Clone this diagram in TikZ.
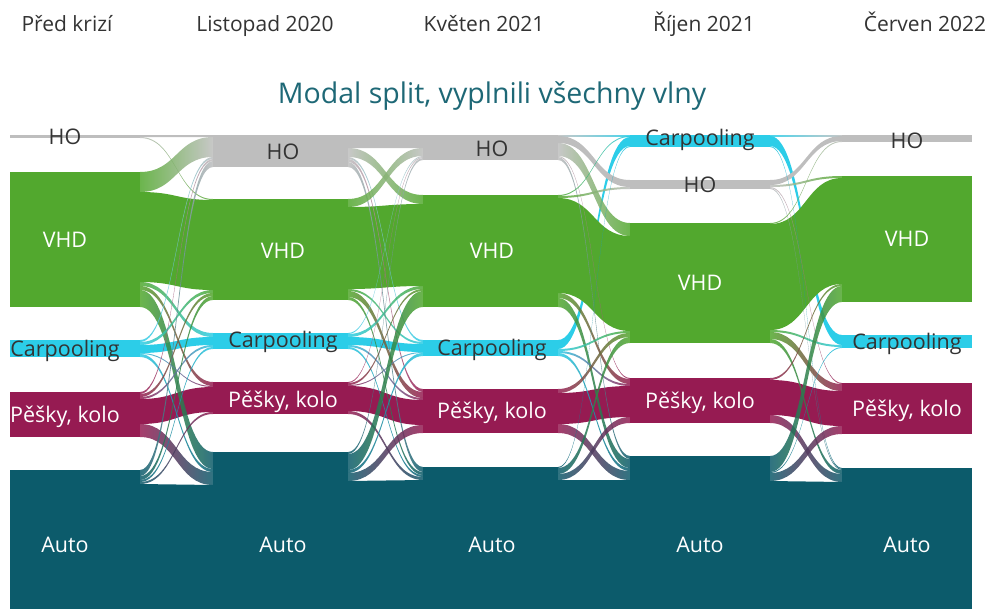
\documentclass[tikz,border=0pt]{standalone}
\usepackage{fontspec}
\setmainfont{Open Sans}
\usetikzlibrary{calc}

\definecolor{hoC}{RGB}{190,190,190}
\definecolor{vhdC}{RGB}{82,168,46}
\definecolor{carC}{RGB}{44,205,232}
\definecolor{pkC}{RGB}{150,27,82}
\definecolor{autC}{RGB}{12,91,107}
\definecolor{titleC}{RGB}{30,104,118}
\definecolor{txtC}{RGB}{51,51,51}

% Sankey ribbon between two bars:
% #1 source bar, #2 offset below its top, #3 target bar, #4 offset below its top,
% #5 thickness, #6 fill style
\newcommand\flowlink[6]{%
  \path[#6] let \p1=(#1.north east), \p2=(#3.north west),
                \p3=($(\p1)!0.5!(\p2)$) in
    (\x1,\y1-#2pt) .. controls (\x3,\y1-#2pt) and (\x3,\y2-#4pt) .. (\x2,\y2-#4pt)
    -- (\x2,\y2-#4pt-#5pt)
    .. controls (\x3,\y2-#4pt-#5pt) and (\x3,\y1-#2pt-#5pt) .. (\x1,\y1-#2pt-#5pt)
    -- cycle;}

\begin{document}
\begin{tikzpicture}[x=1pt,y=-1pt,
  bar/.style={rectangle, inner sep=0pt, outer sep=0pt, anchor=north west,
              fill=#1, draw=none},
  lab/.style={font=\fontsize{21.5}{24}\selectfont, text height=15.3pt,
              text depth=0pt, inner sep=0pt, text=#1},
  hdr/.style={font=\fontsize{21}{24}\selectfont, text=txtC, anchor=base,
              inner sep=0pt},
  same/.style={fill=#1},
  mix/.style 2 args={left color=#1, right color=#2, opacity=0.85}]

\useasboundingbox (0,0) rectangle (988,608);
\clip (0,0) rectangle (988,608);

% ---------- bars ----------
% Před krizí
\node[bar=hoC,  minimum width=130pt, minimum height=3pt]   (c0ho)  at (10,135) {};
\node[bar=vhdC, minimum width=130pt, minimum height=135pt] (c0vhd) at (10,172) {};
\node[bar=carC, minimum width=130pt, minimum height=17pt]  (c0car) at (10,340) {};
\node[bar=pkC,  minimum width=130pt, minimum height=45pt]  (c0pk)  at (10,392) {};
\node[bar=autC, minimum width=130pt, minimum height=150pt] (c0aut) at (10,470) {};
% Listopad 2020
\node[bar=hoC,  minimum width=135pt, minimum height=32pt]  (c1ho)  at (213,135) {};
\node[bar=vhdC, minimum width=135pt, minimum height=101pt] (c1vhd) at (213,199) {};
\node[bar=carC, minimum width=135pt, minimum height=16pt]  (c1car) at (213,333) {};
\node[bar=pkC,  minimum width=135pt, minimum height=32pt]  (c1pk)  at (213,382) {};
\node[bar=autC, minimum width=135pt, minimum height=186pt] (c1aut) at (213,452) {};
% Květen 2021
\node[bar=hoC,  minimum width=135pt, minimum height=25pt]  (c2ho)  at (423,135) {};
\node[bar=vhdC, minimum width=135pt, minimum height=112pt] (c2vhd) at (423,195) {};
\node[bar=carC, minimum width=135pt, minimum height=16pt]  (c2car) at (423,340) {};
\node[bar=pkC,  minimum width=135pt, minimum height=44pt]  (c2pk)  at (423,389) {};
\node[bar=autC, minimum width=135pt, minimum height=156pt] (c2aut) at (423,467) {};
% Říjen 2021
\node[bar=carC, minimum width=140pt, minimum height=12pt]  (c3car) at (630,135) {};
\node[bar=hoC,  minimum width=140pt, minimum height=9pt]   (c3ho)  at (630,180) {};
\node[bar=vhdC, minimum width=140pt, minimum height=120pt] (c3vhd) at (630,223) {};
\node[bar=pkC,  minimum width=140pt, minimum height=45pt]  (c3pk)  at (630,378) {};
\node[bar=autC, minimum width=140pt, minimum height=178pt] (c3aut) at (630,456) {};
% Červen 2022
\node[bar=hoC,  minimum width=130pt, minimum height=7pt]   (c4ho)  at (842,135) {};
\node[bar=vhdC, minimum width=130pt, minimum height=126pt] (c4vhd) at (842,176) {};
\node[bar=carC, minimum width=130pt, minimum height=13pt]  (c4car) at (842,335) {};
\node[bar=pkC,  minimum width=130pt, minimum height=51pt]  (c4pk)  at (842,383) {};
\node[bar=autC, minimum width=130pt, minimum height=154pt] (c4aut) at (842,468) {};

% ---------- carpooling ribbons that pass beneath the others ----------
\flowlink{c2car}{0}{c3car}{2}{9}{same=carC}
\flowlink{c3car}{1}{c4car}{0}{10}{same=carC}

% ---------- unchanged mode ----------
\flowlink{c0ho}{0}{c1ho}{0}{2}{same=hoC}
\flowlink{c0vhd}{20}{c1vhd}{1}{90}{same=vhdC}
\flowlink{c0car}{5}{c1car}{4}{8}{same=carC}
\flowlink{c0pk}{7}{c1pk}{5}{25}{same=pkC}
\flowlink{c0aut}{14}{c1aut}{33}{200}{same=autC}

\flowlink{c1ho}{0}{c2ho}{0}{13}{same=hoC}
\flowlink{c1vhd}{8}{c2vhd}{9}{82}{same=vhdC}
\flowlink{c1car}{4}{c2car}{4}{8}{same=carC}
\flowlink{c1pk}{4}{c2pk}{11}{25}{same=pkC}
\flowlink{c1aut}{29}{c2aut}{13}{200}{same=autC}

\flowlink{c2ho}{1}{c3ho}{0}{7}{same=hoC}
\flowlink{c2vhd}{3}{c3vhd}{13}{95}{same=vhdC}
\flowlink{c2pk}{4}{c3pk}{8}{31}{same=pkC}
\flowlink{c2aut}{13}{c3aut}{24}{200}{same=autC}

\flowlink{c3ho}{0}{c4ho}{1}{5}{same=hoC}
\flowlink{c3vhd}{1}{c4vhd}{2}{106}{same=vhdC}
\flowlink{c3pk}{2}{c4pk}{8}{35}{same=pkC}
\flowlink{c3aut}{25}{c4aut}{14}{200}{same=autC}

% ---------- mode changes: Před krizí -> Listopad 2020 ----------
\flowlink{c0ho}{2}{c1vhd}{0}{1}{mix={hoC}{vhdC}}
\flowlink{c0vhd}{0}{c1ho}{2}{20}{mix={vhdC}{hoC}}
\flowlink{c0vhd}{110}{c1car}{0}{4}{mix={vhdC}{carC}}
\flowlink{c0vhd}{114}{c1pk}{0}{4}{mix={vhdC}{pkC}}
\flowlink{c0vhd}{118}{c1aut}{0}{17}{mix={vhdC}{autC}}
\flowlink{c0car}{0}{c1ho}{22}{2}{mix={carC}{hoC}}
\flowlink{c0car}{2}{c1vhd}{91}{3}{mix={carC}{vhdC}}
\flowlink{c0car}{13}{c1pk}{4}{1}{mix={carC}{pkC}}
\flowlink{c0car}{14}{c1aut}{17}{3}{mix={carC}{autC}}
\flowlink{c0pk}{0}{c1ho}{24}{2}{mix={pkC}{hoC}}
\flowlink{c0pk}{2}{c1vhd}{94}{3}{mix={pkC}{vhdC}}
\flowlink{c0pk}{5}{c1car}{12}{2}{mix={pkC}{carC}}
\flowlink{c0pk}{32}{c1aut}{20}{13}{mix={pkC}{autC}}
\flowlink{c0aut}{0}{c1ho}{26}{6}{mix={autC}{hoC}}
\flowlink{c0aut}{6}{c1vhd}{97}{4}{mix={autC}{vhdC}}
\flowlink{c0aut}{10}{c1car}{14}{2}{mix={autC}{carC}}
\flowlink{c0aut}{12}{c1pk}{30}{2}{mix={autC}{pkC}}

% ---------- Listopad 2020 -> Květen 2021 ----------
\flowlink{c1ho}{13}{c2vhd}{0}{9}{mix={hoC}{vhdC}}
\flowlink{c1ho}{22}{c2car}{0}{2}{mix={hoC}{carC}}
\flowlink{c1ho}{24}{c2pk}{0}{3}{mix={hoC}{pkC}}
\flowlink{c1ho}{27}{c2aut}{0}{5}{mix={hoC}{autC}}
\flowlink{c1vhd}{0}{c2ho}{13}{8}{mix={vhdC}{hoC}}
\flowlink{c1vhd}{90}{c2car}{2}{2}{mix={vhdC}{carC}}
\flowlink{c1vhd}{92}{c2pk}{3}{6}{mix={vhdC}{pkC}}
\flowlink{c1vhd}{98}{c2aut}{5}{3}{mix={vhdC}{autC}}
\flowlink{c1car}{0}{c2ho}{21}{1}{mix={carC}{hoC}}
\flowlink{c1car}{1}{c2vhd}{91}{3}{mix={carC}{vhdC}}
\flowlink{c1car}{12}{c2pk}{9}{2}{mix={carC}{pkC}}
\flowlink{c1car}{14}{c2aut}{8}{2}{mix={carC}{autC}}
\flowlink{c1pk}{0}{c2ho}{22}{1}{mix={pkC}{hoC}}
\flowlink{c1pk}{1}{c2vhd}{94}{2}{mix={pkC}{vhdC}}
\flowlink{c1pk}{3}{c2car}{12}{1}{mix={pkC}{carC}}
\flowlink{c1pk}{29}{c2aut}{10}{3}{mix={pkC}{autC}}
\flowlink{c1aut}{0}{c2ho}{23}{2}{mix={autC}{hoC}}
\flowlink{c1aut}{2}{c2vhd}{96}{16}{mix={autC}{vhdC}}
\flowlink{c1aut}{18}{c2car}{13}{3}{mix={autC}{carC}}
\flowlink{c1aut}{21}{c2pk}{36}{8}{mix={autC}{pkC}}

% ---------- Květen 2021 -> Říjen 2021 ----------
\flowlink{c2ho}{0}{c3car}{0}{1}{mix={hoC}{carC}}
\flowlink{c2ho}{8}{c3vhd}{0}{13}{mix={hoC}{vhdC}}
\flowlink{c2ho}{21}{c3pk}{0}{1}{mix={hoC}{pkC}}
\flowlink{c2ho}{22}{c3aut}{0}{3}{mix={hoC}{autC}}
\flowlink{c2vhd}{0}{c3car}{1}{1}{mix={vhdC}{carC}}
\flowlink{c2vhd}{1}{c3ho}{7}{2}{mix={vhdC}{hoC}}
\flowlink{c2vhd}{98}{c3pk}{1}{5}{mix={vhdC}{pkC}}
\flowlink{c2vhd}{103}{c3aut}{3}{9}{mix={vhdC}{autC}}
\flowlink{c2car}{9}{c3vhd}{108}{2}{mix={carC}{vhdC}}
\flowlink{c2car}{11}{c3pk}{6}{2}{mix={carC}{pkC}}
\flowlink{c2car}{13}{c3aut}{12}{3}{mix={carC}{autC}}
\flowlink{c2pk}{0}{c3vhd}{110}{4}{mix={pkC}{vhdC}}
\flowlink{c2pk}{35}{c3aut}{15}{9}{mix={pkC}{autC}}
\flowlink{c2aut}{0}{c3car}{11}{1}{mix={autC}{carC}}
\flowlink{c2aut}{1}{c3vhd}{114}{6}{mix={autC}{vhdC}}
\flowlink{c2aut}{7}{c3pk}{39}{6}{mix={autC}{pkC}}

% ---------- Říjen 2021 -> Červen 2022 ----------
\flowlink{c3car}{0}{c4ho}{0}{1}{mix={carC}{hoC}}
\flowlink{c3car}{11}{c4aut}{0}{1}{mix={carC}{autC}}
\flowlink{c3ho}{5}{c4vhd}{0}{2}{mix={hoC}{vhdC}}
\flowlink{c3ho}{7}{c4pk}{0}{1}{mix={hoC}{pkC}}
\flowlink{c3ho}{8}{c4aut}{1}{1}{mix={hoC}{autC}}
\flowlink{c3vhd}{0}{c4ho}{6}{1}{mix={vhdC}{hoC}}
\flowlink{c3vhd}{107}{c4car}{10}{2}{mix={vhdC}{carC}}
\flowlink{c3vhd}{109}{c4pk}{1}{7}{mix={vhdC}{pkC}}
\flowlink{c3vhd}{116}{c4aut}{2}{4}{mix={vhdC}{autC}}
\flowlink{c3pk}{0}{c4vhd}{108}{2}{mix={pkC}{vhdC}}
\flowlink{c3pk}{37}{c4aut}{6}{8}{mix={pkC}{autC}}
\flowlink{c3aut}{0}{c4vhd}{110}{16}{mix={autC}{vhdC}}
\flowlink{c3aut}{16}{c4car}{12}{1}{mix={autC}{carC}}
\flowlink{c3aut}{17}{c4pk}{43}{8}{mix={autC}{pkC}}

% ---------- headings ----------
\node[hdr] (h0) at (67,31)  {Před krizí};
\node[hdr] (h1) at (265,31) {Listopad 2020};
\node[hdr] (h2) at (484,31) {Květen 2021};
\node[hdr] (h3) at (704,31) {Říjen 2021};
\node[hdr] (h4) at (925,31) {Červen 2022};
\node[anchor=base, inner sep=0pt, text=titleC,
      font=\fontsize{28.5}{32}\selectfont] (title) at (492,103)
      {Modal split, vyplnili všechny vlny};

% ---------- bar labels ----------
\node[lab=txtC]  (l0ho)  at (65,137)   {HO};
\node[lab=white] (l0vhd) at (65,239.5) {VHD};
\node[lab=txtC]  (l0car) at (65,348.5) {Carpooling};
\node[lab=white] (l0pk)  at (65,414.5) {Pěšky, kolo};
\node[lab=white] (l0aut) at (65,545)   {Auto};

\node[lab=txtC]  (l1ho)  at (283,152)  {HO};
\node[lab=white] (l1vhd) at (283,251)  {VHD};
\node[lab=txtC]  (l1car) at (283,339.5){Carpooling};
\node[lab=white] (l1pk)  at (283,400)  {Pěšky, kolo};
\node[lab=white] (l1aut) at (283,545)  {Auto};

\node[lab=txtC]  (l2ho)  at (492,149)  {HO};
\node[lab=white] (l2vhd) at (492,251)  {VHD};
\node[lab=txtC]  (l2car) at (492,348)  {Carpooling};
\node[lab=white] (l2pk)  at (492,411)  {Pěšky, kolo};
\node[lab=white] (l2aut) at (492,545)  {Auto};

\node[lab=txtC]  (l3car) at (700,137.5){Carpooling};
\node[lab=txtC]  (l3ho)  at (700,185)  {HO};
\node[lab=white] (l3vhd) at (700,282.5){VHD};
\node[lab=white] (l3pk)  at (700,401)  {Pěšky, kolo};
\node[lab=white] (l3aut) at (700,545)  {Auto};

\node[lab=txtC]  (l4ho)  at (907,140.5){HO};
\node[lab=white] (l4vhd) at (907,239)  {VHD};
\node[lab=txtC]  (l4car) at (907,341.5){Carpooling};
\node[lab=white] (l4pk)  at (907,409)  {Pěšky, kolo};
\node[lab=white] (l4aut) at (907,545)  {Auto};
\end{tikzpicture}
\end{document}
